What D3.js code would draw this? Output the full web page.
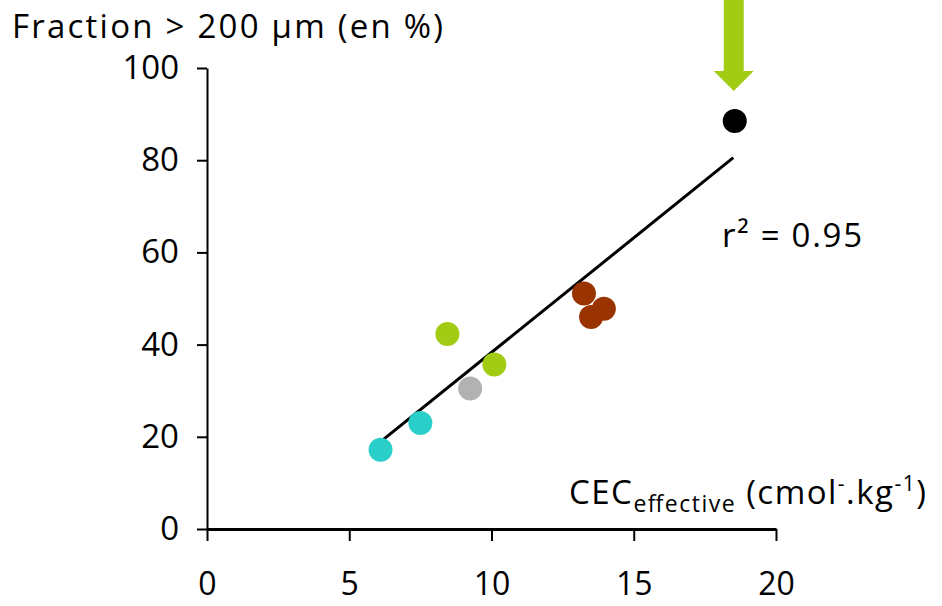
<!DOCTYPE html>
<html>
<head>
<meta charset="utf-8">
<script src="https://cdn.jsdelivr.net/npm/d3@7"></script>
<style>
  body { margin: 0; background: #fff; }
  svg text { font-family: "Open Sans", sans-serif; fill: #000; }
</style>
</head>
<body>
<div id="chart"></div>
<script>
// data
var cec      = [6.1, 7.5, 9.25, 8.45, 10.1, 13.25, 13.5, 13.95, 18.55];
var fraction = [17.2, 23.0, 30.5, 42.3, 35.7, 51.1, 46.0, 47.8, 88.5];
var groups   = ["cyan", "cyan", "grey", "green", "green", "brown", "brown", "brown", "black"];
var groupColors = { cyan: "#2bcfca", grey: "#b2b2b2", green: "#a2cc14", brown: "#993300", black: "#000000" };

var xTicks = [0, 5, 10, 15, 20];
var yTicks = [0, 20, 40, 60, 80, 100];

// regression line
var fitSlope = 4.97, fitIntercept = -11.4;
var fitRange = [6.05, 18.5];
var r2Label = "r² = 0.95";

var width = 942, height = 606;
var fontFam = "'Open Sans', sans-serif";

var svg = d3.select("#chart").append("svg")
    .attr("width", width)
    .attr("height", height);

var x = d3.scaleLinear().domain([0, 20]).range([207, 776]);
var y = d3.scaleLinear().domain([0, 100]).range([529, 68]);

// y axis
var yAxis = d3.axisLeft(y).tickValues(yTicks).tickSize(10).tickPadding(18).tickSizeOuter(0);
var gy = svg.append("g")
    .attr("transform", "translate(" + x(0) + ",0)")
    .call(yAxis);
gy.select(".domain").attr("stroke-width", 2);
gy.selectAll(".tick line").attr("stroke-width", 2);
gy.selectAll("text").style("font-size", "33px").style("font-family", fontFam);

// x axis
var xAxis = d3.axisBottom(x).tickValues(xTicks).tickSize(12).tickPadding(31).tickSizeOuter(0);
var gx = svg.append("g")
    .attr("transform", "translate(0," + y(0) + ")")
    .call(xAxis);
gx.select(".domain").attr("stroke-width", 3);
gx.selectAll(".tick line").attr("stroke-width", 2);
gx.selectAll("text").style("font-size", "32px").style("font-family", fontFam);

// regression line
svg.append("line")
    .attr("x1", x(fitRange[0])).attr("y1", y(fitSlope * fitRange[0] + fitIntercept))
    .attr("x2", x(fitRange[1])).attr("y2", y(fitSlope * fitRange[1] + fitIntercept))
    .attr("stroke", "#000")
    .attr("stroke-width", 3);

// points
var pts = cec.map(function(d, i) { return { x: d, y: fraction[i], g: groups[i] }; });
svg.selectAll(".dot")
    .data(pts)
    .enter().append("circle")
    .attr("class", "dot")
    .attr("cx", function(d) { return x(d.x); })
    .attr("cy", function(d) { return y(d.y); })
    .attr("r", 12)
    .attr("fill", function(d) { return groupColors[d.g]; });

// arrow pointing at the last point
var last = pts[pts.length - 1];
var ax = x(last.x) - 1, tipY = y(last.y) - 30;
svg.append("path")
    .attr("d", "M" + (ax - 10) + ",0 L" + (ax + 10) + ",0 L" + (ax + 10) + "," + (tipY - 20) +
               " L" + (ax + 20) + "," + (tipY - 20) + " L" + ax + "," + tipY +
               " L" + (ax - 20) + "," + (tipY - 20) + " L" + (ax - 10) + "," + (tipY - 20) + "Z")
    .attr("fill", groupColors.green);

// labels
svg.append("text")
    .attr("x", 12).attr("y", 38)
    .attr("textLength", 431)
    .style("font-size", "33px")
    .text("Fraction > 200 µm (en %)");

svg.append("text")
    .attr("x", 722).attr("y", 247)
    .attr("textLength", 140)
    .style("font-size", "33px")
    .text(r2Label);

var xl = svg.append("text")
    .attr("x", 569).attr("y", 504)
    .attr("textLength", 357)
    .style("font-size", "33px");
xl.append("tspan").text("CEC");
xl.append("tspan").attr("dy", 8).style("font-size", "23px").text("effective");
xl.append("tspan").attr("dy", -8).text(" (cmol");
xl.append("tspan").attr("dy", -13).style("font-size", "21px").text("-");
xl.append("tspan").attr("dy", 13).text(".kg");
xl.append("tspan").attr("dy", -13).style("font-size", "21px").text("-1");
xl.append("tspan").attr("dy", 13).text(")");
</script>
</body>
</html>
